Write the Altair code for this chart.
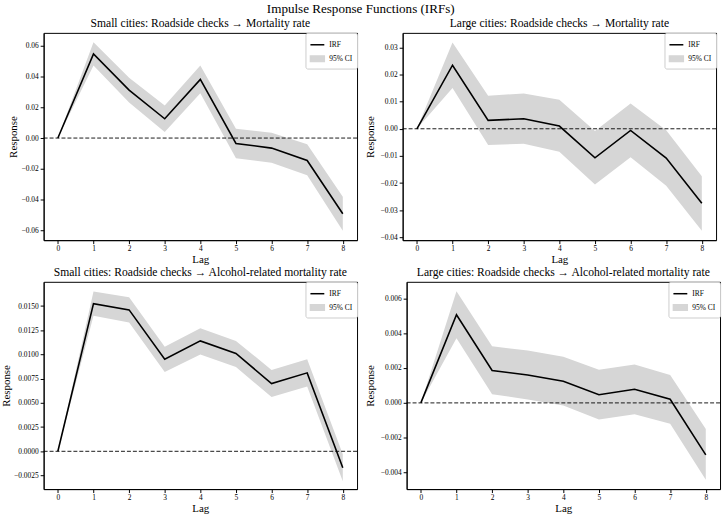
import altair as alt
import pandas as pd

lags = [0, 1, 2, 3, 4, 5, 6, 7, 8]

titles = [
    "Small cities: Roadside checks \u2192 Mortality rate",
    "Large cities: Roadside checks \u2192 Mortality rate",
    "Small cities: Roadside checks \u2192 Alcohol-related mortality rate",
    "Large cities: Roadside checks \u2192 Alcohol-related mortality rate",
]

irf_small_mort = [0, 0.0545, 0.031, 0.0125, 0.038, -0.0035, -0.0065, -0.0145, -0.049]
lo_small_mort = [0, 0.047, 0.023, 0.004, 0.029, -0.013, -0.016, -0.024, -0.060]
hi_small_mort = [0, 0.062, 0.039, 0.021, 0.047, 0.006, 0.0035, -0.004, -0.038]

irf_large_mort = [0, 0.0234, 0.0031, 0.0037, 0.001, -0.0107, -0.0006, -0.0108, -0.0274]
lo_large_mort = [0, 0.015, -0.006, -0.0055, -0.0085, -0.0205, -0.0105, -0.021, -0.0375]
hi_large_mort = [0, 0.0318, 0.0122, 0.013, 0.0107, -0.0008, 0.0093, -0.0005, -0.0175]

irf_small_alc = [0, 0.01525, 0.0146, 0.0095, 0.0114, 0.0101, 0.0070, 0.0081, -0.0017]
lo_small_alc = [0, 0.0140, 0.0133, 0.0082, 0.0100, 0.0087, 0.0056, 0.0067, -0.0031]
hi_small_alc = [0, 0.0165, 0.0159, 0.0108, 0.0127, 0.0114, 0.0084, 0.0095, -0.0003]

irf_large_alc = [0, 0.00505, 0.00186, 0.0016, 0.00124, 0.00047, 0.00078, 0.00021, -0.00298]
lo_large_alc = [0, 0.0037, 0.0005, 0.0002, -0.00015, -0.00095, -0.00065, -0.0012, -0.0044]
hi_large_alc = [0, 0.0064, 0.00325, 0.003, 0.00265, 0.0019, 0.0022, 0.0016, -0.0015]

y_ticks = [
    [-0.06, -0.04, -0.02, 0.0, 0.02, 0.04, 0.06],
    [-0.04, -0.03, -0.02, -0.01, 0.0, 0.01, 0.02, 0.03],
    [-0.0025, 0.0, 0.0025, 0.005, 0.0075, 0.01, 0.0125, 0.015],
    [-0.004, -0.002, 0.0, 0.002, 0.004, 0.006],
]
y_formats = [".2f", ".2f", ".4f", ".3f"]
y_domains = [
    [-0.0661, 0.0681],
    [-0.0410, 0.0353],
    [-0.0039, 0.0175],
    [-0.00494, 0.00694],
]
title_x = [-30, -32, -37, -36]

series = [
    (irf_small_mort, lo_small_mort, hi_small_mort),
    (irf_large_mort, lo_large_mort, hi_large_mort),
    (irf_small_alc, lo_small_alc, hi_small_alc),
    (irf_large_alc, lo_large_alc, hi_large_alc),
]

FONT = "Liberation Serif"
BAND = "#d6d6d6"
RECT = "M-1,-0.4H1V0.4H-1Z"


def panel(i):
    irf, lo, hi = series[i]
    df = pd.DataFrame({"lag": lags, "irf": irf, "lower": lo, "upper": hi})
    base = alt.Chart(df)
    xenc = alt.X(
        "lag:Q",
        scale=alt.Scale(domain=[-0.4, 8.4], nice=False, zero=False),
        axis=alt.Axis(values=lags, format="d", title="Lag", grid=False,
                      tickSize=3.5, labelFontSize=7.5, titleFontSize=11,
                      titlePadding=2, labelPadding=1),
    )
    yscale = alt.Scale(domain=y_domains[i], nice=False, zero=False)
    yaxis = alt.Axis(values=y_ticks[i], format=y_formats[i], title="Response",
                     grid=False, tickSize=3.5, labelFontSize=7.5, titleFontSize=11,
                     titleX=title_x[i], titleBaseline="middle", labelPadding=2)
    color = alt.Color(
        "series:N",
        scale=alt.Scale(domain=["IRF", "95% CI"], range=["black", BAND]),
        legend=alt.Legend(
            title=None, orient="top-right", offset=0,
            symbolType=alt.ExprRef(expr="datum.value == 'IRF' ? 'stroke' : '" + RECT + "'"),
            symbolStrokeColor=alt.ExprRef(expr="datum.value == 'IRF' ? 'black' : '" + BAND + "'"),
            symbolFillColor=alt.ExprRef(expr="datum.value == 'IRF' ? 'transparent' : '" + BAND + "'"),
            symbolStrokeWidth=1.5, symbolSize=196, labelFontSize=7.5,
            rowPadding=2, padding=4, fillColor="white", strokeColor="#cccccc",
            cornerRadius=2, labelFont=FONT, labelColor="black", labelOffset=4,
        ),
    )
    band = base.mark_area(opacity=1).transform_calculate(series="'95% CI'").encode(
        x=xenc,
        y=alt.Y("lower:Q", scale=yscale, axis=yaxis),
        y2="upper:Q",
        color=color,
    )
    line = base.mark_line(strokeWidth=1.6).transform_calculate(series="'IRF'").encode(
        x=xenc,
        y=alt.Y("irf:Q", scale=yscale, axis=yaxis),
        color=color,
    )
    zero = alt.Chart(pd.DataFrame({"z": [0.0]})).mark_rule(
        color="black", strokeDash=[4, 2], strokeWidth=0.9
    ).encode(y=alt.Y("z:Q", scale=yscale, axis=yaxis))
    return alt.layer(band, zero, line).properties(
        width=316, height=209,
        title=alt.TitleParams(titles[i], fontSize=11.7, offset=3, font=FONT,
                              fontWeight="normal", color="black"),
    )


def row(a, b):
    return alt.hconcat(panel(a), panel(b), spacing=6).resolve_scale(
        color="independent", y="independent", x="independent"
    ).resolve_legend(color="independent")


chart = alt.vconcat(row(0, 1), row(2, 3), spacing=0).resolve_scale(
    color="independent", y="independent", x="independent"
).resolve_legend(color="independent").properties(
    title=alt.TitleParams("Impulse Response Functions (IRFs)", fontSize=13.2,
                          anchor="middle", font=FONT, fontWeight="normal",
                          color="black", offset=1),
    padding={"left": 0, "top": 0, "right": 2, "bottom": 0},
).configure(font=FONT).configure_axis(
    labelFont=FONT, titleFont=FONT, labelColor="black", titleColor="black",
    domainColor="black", tickColor="black", titleFontWeight="normal",
).configure_view(stroke="black", strokeWidth=1)

chart.save("out.html", embed_options={"renderer": "svg", "actions": False})
